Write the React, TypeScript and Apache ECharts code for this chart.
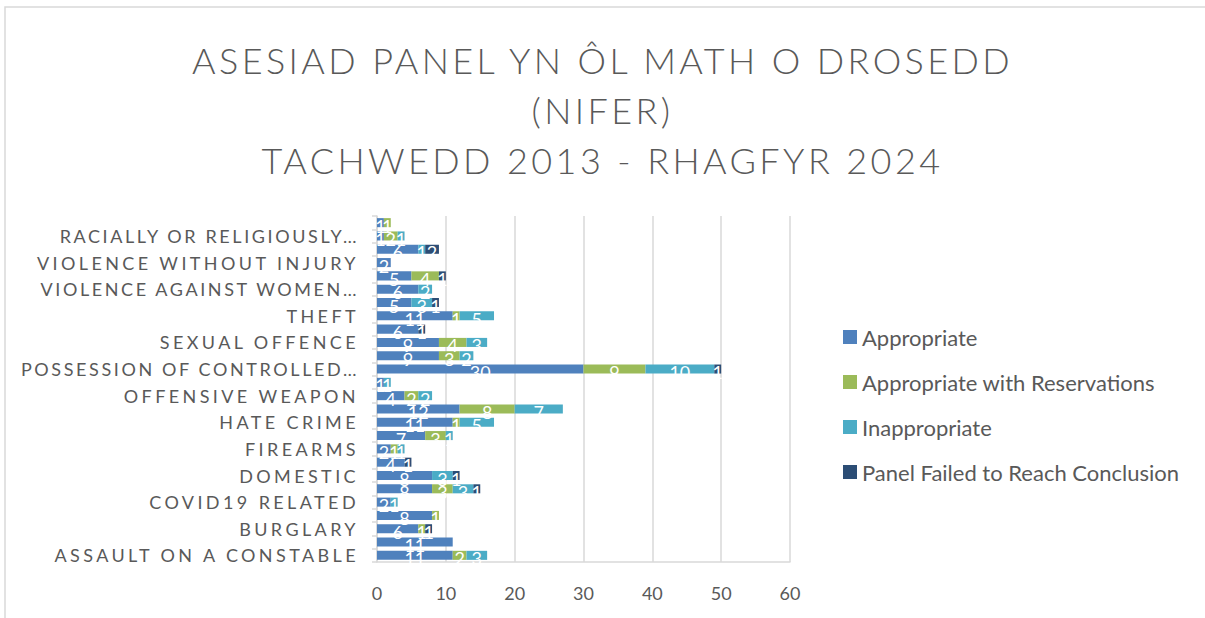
import React, { useEffect, useRef } from "react";
import * as echarts from "echarts";

const titleLines = [
  "ASESIAD PANEL YN ÔL MATH O DROSEDD",
  "(NIFER)",
  "TACHWEDD 2013 - RHAGFYR 2024",
];

// bottom to top
const categories = [
  "ASSAULT ON A CONSTABLE",
  "BREACH OF ORDER",
  "BURGLARY",
  "COMMON ASSAULT",
  "COVID19 RELATED",
  "CRIMINAL DAMAGE",
  "DOMESTIC",
  "DRUGS",
  "FIREARMS",
  "FRAUD",
  "HATE CRIME",
  "MALICIOUS COMMUNICATIONS",
  "OFFENSIVE WEAPON",
  "OTHER",
  "POSSESSION OF CONTROLLED…",
  "PUBLIC ORDER",
  "SEXUAL OFFENCE",
  "SHOPLIFTING",
  "THEFT",
  "TRAFFIC",
  "VIOLENCE AGAINST WOMEN…",
  "VIOLENCE WITH INJURY",
  "VIOLENCE WITHOUT INJURY",
  "ROBBERY",
  "RACIALLY OR RELIGIOUSLY…",
  "STALKING AND HARASSMENT",
];

const seriesNames = [
  "Appropriate",
  "Appropriate with Reservations",
  "Inappropriate",
  "Panel Failed to Reach Conclusion",
];

const appropriate = [11, 11, 6, 8, 2, 8, 8, 4, 2, 7, 11, 12, 4, 1, 30, 9, 9, 6, 11, 5, 6, 5, 2, 6, 1, 1];
const reservations = [2, 0, 1, 1, 0, 3, 0, 0, 1, 3, 1, 8, 2, 0, 9, 3, 4, 0, 1, 0, 0, 4, 0, 0, 2, 1];
const inappropriate = [3, 0, 0, 0, 1, 3, 3, 0, 1, 1, 5, 7, 2, 1, 10, 2, 3, 0, 5, 3, 2, 0, 0, 1, 1, 0];
const failed = [0, 0, 1, 0, 0, 1, 1, 1, 0, 0, 0, 0, 0, 0, 1, 0, 0, 1, 0, 1, 0, 1, 0, 2, 0, 0];

const xTicks = { min: 0, max: 60, interval: 10 };

const colors = ["#4F81BD", "#9BBB59", "#4BACC6", "#2C4D75"];
const FONT = "Lato";
const TEXT = "#595959";

export default function App() {
  const ref = useRef<HTMLDivElement>(null);
  useEffect(() => {
    if (!ref.current) return;
    const chart = echarts.init(ref.current, null, { renderer: "svg" });
    const values = [appropriate, reservations, inappropriate, failed];
    chart.setOption({
      animation: false,
      backgroundColor: "#ffffff",
      title: {
        text: titleLines.join("\n"),
        left: "center",
        top: 30,
        textStyle: {
          fontFamily: FONT,
          fontSize: 36,
          fontWeight: 300,
          color: TEXT,
          lineHeight: 50,
        },
      },
      graphic: [
        {
          type: "rect",
          shape: { x: 5, y: 7, width: 1300, height: 800 },
          style: { fill: "none", stroke: "#d9d9d9", lineWidth: 1.5 },
          silent: true,
        },
      ],
      legend: {
        orient: "vertical",
        left: 843,
        top: 326,
        padding: 0,
        itemWidth: 14,
        itemHeight: 14,
        itemGap: 23,
        icon: "rect",
        data: seriesNames,
        textStyle: { fontFamily: FONT, fontSize: 22, color: TEXT, lineHeight: 22 },
      },
      grid: { left: 377, right: 415, top: 216, bottom: 56, containLabel: false },
      xAxis: {
        type: "value",
        min: xTicks.min,
        max: xTicks.max,
        interval: xTicks.interval,
        axisLine: { show: true, lineStyle: { color: "#d9d9d9", width: 1.5 } },
        axisTick: { show: false },
        splitLine: { show: true, lineStyle: { color: "#d9d9d9", width: 1.5 } },
        axisLabel: { fontFamily: FONT, fontSize: 18, color: TEXT, margin: 22 },
      },
      yAxis: {
        type: "category",
        data: categories,
        axisLine: { show: true, lineStyle: { color: "#d9d9d9", width: 1.5 } },
        axisTick: { show: true, interval: 0, length: 5, lineStyle: { color: "#d9d9d9", width: 1.5 } },
        axisLabel: {
          interval: 1,
          fontFamily: FONT,
          fontSize: 18,
          color: TEXT,
          margin: 18,
        },
      },
      series: seriesNames.map((name, i) => ({
        name,
        type: "bar",
        stack: "total",
        barCategoryGap: "32%",
        itemStyle: { color: colors[i] },
        label: {
          show: true,
          position: "inside",
          color: "#ffffff",
          fontFamily: FONT,
          fontSize: 18,
          offset: [0, 3],
          formatter: (p: any) => (p.value ? String(p.value) : ""),
        },
        data: values[i],
      })),
    });

    const applySpacing = () => {
      const svg = ref.current?.querySelector("svg");
      if (!svg) return;
      svg.querySelectorAll("text").forEach((t) => {
        const s = (t.textContent || "").trim();
        if (titleLines.includes(s)) {
          (t as SVGTextElement).style.letterSpacing = "3.4px";
        } else if (categories.includes(s)) {
          (t as SVGTextElement).style.letterSpacing = s.endsWith("…") ? "2.6px" : "3.4px";
        }
      });
    };
    applySpacing();
    chart.on("finished", applySpacing);
    return () => {
      chart.dispose();
    };
  }, []);
  return (
    <div
      ref={ref}
      style={{ position: "fixed", left: 0, top: 0, width: 1205, height: 618 }}
    />
  );
}
